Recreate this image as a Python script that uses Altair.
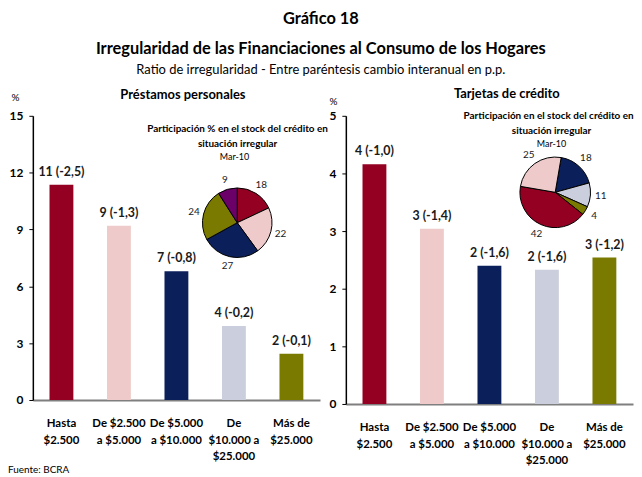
import math
import altair as alt
import pandas as pd

# ---------------- data ----------------
categorias = ["Hasta|$2.500", "De $2.500|a $5.000", "De $5.000|a $10.000",
              "De|$10.000 a|$25.000", "Más de|$25.000"]

prestamos_ratio = [11.36, 9.2, 6.79, 3.91, 2.44]
prestamos_etiquetas = ["11 (-2,5)", "9 (-1,3)", "7 (-0,8)", "4 (-0,2)", "2 (-0,1)"]

tarjetas_ratio = [4.16, 3.04, 2.40, 2.33, 2.54]
tarjetas_etiquetas = ["4 (-1,0)", "3 (-1,4)", "2 (-1,6)", "2 (-1,6)", "3 (-1,2)"]

pie_prest_seg = ["p1", "p2", "p3", "p4", "p5"]
pie_prest_val = [18, 22, 27, 24, 9]

pie_tarj_seg = ["t1", "t2", "t3", "t4", "t5"]
pie_tarj_val = [18, 11, 4, 42, 25]

# ---------------- styles ----------------
FONT = "Lato"
RED, PINK, NAVY, LAV, OLIVE, PURPLE = "#930022", "#EECBCA", "#0B1F5A", "#CBCEDC", "#7A7A00", "#6A0068"
bar_colors = [RED, PINK, NAVY, LAV, OLIVE]
pie_prest_colors = [RED, PINK, NAVY, OLIVE, PURPLE]
pie_tarj_colors = [NAVY, LAV, OLIVE, RED, PINK]

one_row = pd.DataFrame({"k": [0]})


def note(txt, px, py, fs, fw="normal", align="center"):
    return alt.Chart(one_row).mark_text(fontSize=fs, fontWeight=fw, color="black",
                                        baseline="middle", align=align).encode(
        x=alt.value(px), y=alt.value(py), text=alt.value(txt))


def panel(ratios, etiquetas, height, ymax, yvals, pct_xy,
          pie_seg, pie_val, pie_cols, pie_start, pie_c, pie_r, pie_lbl_r,
          pie_titles, panel_title, panel_title_xy, footer=False):
    df = pd.DataFrame({"cat": categorias, "ratio": ratios, "lab": etiquetas})
    x = alt.X("cat:N", sort=categorias,
              scale=alt.Scale(paddingInner=0.585, paddingOuter=0.29),
              axis=alt.Axis(title=None, labelExpr="split(datum.label, '|')",
                            labelAngle=0, ticks=False, domainColor="#7f7f7f",
                            domainWidth=2, labelFontWeight="bold", labelFontSize=11.5,
                            labelColor="black", labelPadding=18, labelLineHeight=16.5))
    y = alt.Y("ratio:Q", scale=alt.Scale(domain=[0, ymax], nice=False),
              axis=alt.Axis(values=yvals, format="d", grid=False, title="%",
                            titleAngle=0, titleX=pct_xy[0], titleY=pct_xy[1],
                            titleAlign="center", titleBaseline="middle",
                            titleFontWeight="normal", titleFontSize=10,
                            domainColor="black", domainWidth=1.5,
                            tickColor="black", tickSize=4,
                            labelFontWeight="bold", labelFontSize=12,
                            labelColor="black", labelPadding=6))
    base = alt.Chart(df)
    bars = base.mark_bar().encode(
        x=x, y=y,
        color=alt.Color("cat:N", scale=alt.Scale(domain=categorias, range=bar_colors), legend=None))
    labels = base.mark_text(dy=-13, fontWeight="bold", fontSize=12.5, color="#1a1a1a").encode(
        x=x, y=y, text="lab:N")

    pdf = pd.DataFrame({"seg": pie_seg, "val": pie_val, "ord": list(range(len(pie_val)))})
    theta = alt.Theta("val:Q", stack=True,
                      scale=alt.Scale(range=[pie_start, pie_start + 2 * math.pi]))
    arc = alt.Chart(pdf).mark_arc(radius=pie_r, stroke="black", strokeWidth=1).encode(
        theta=theta,
        color=alt.Color("seg:N", scale=alt.Scale(domain=pie_seg, range=pie_cols), legend=None),
        order=alt.Order("ord:Q"),
        x=alt.value(pie_c[0]), y=alt.value(pie_c[1]))
    arc_txt = alt.Chart(pdf).mark_text(radius=pie_lbl_r, fontSize=10, color="#1a1a1a").encode(
        theta=theta, text="val:Q", order=alt.Order("ord:Q"),
        x=alt.value(pie_c[0]), y=alt.value(pie_c[1]))

    layers = [bars, labels, arc, arc_txt]
    for txt, px, py, fs, fw in pie_titles:
        layers.append(note(txt, px, py, fs, fw))
    layers.append(note(panel_title, panel_title_xy[0], panel_title_xy[1], 13, "bold"))
    if footer:
        layers.append(note("Fuente: BCRA", -25, 356, 10, "normal", "left"))
    return alt.layer(*layers).resolve_scale(color="independent").properties(
        width=289, height=height)


left = panel(prestamos_ratio, prestamos_etiquetas, 286, 15, [0, 3, 6, 9, 12, 15], (-18, -18.7),
             pie_prest_seg, pie_prest_val, pie_prest_colors, 0.0, (205.7, 107.6), 35, 45,
             [("Participación % en el stock del crédito en", 206, 13.3, 10, "bold"),
              ("situación irregular", 206, 28.3, 10, "bold"),
              ("Mar-10", 203, 41.3, 9, "normal")],
             "Préstamos personales", (151, -21.2), footer=True)

right = panel(tarjetas_ratio, tarjetas_etiquetas, 290, 5, [0, 1, 2, 3, 4, 5], (-13, -14.3),
              pie_tarj_seg, pie_tarj_val, pie_tarj_colors, 0.17, (210.7, 77), 35.5, 46,
              [("Participación en el stock del crédito en", 204, 0, 10, "bold"),
               ("situación irregular", 207, 15.4, 10, "bold"),
               ("Mar-10", 207, 28.7, 9, "normal")],
              "Tarjetas de crédito", (162, -21.8))

chart = alt.hconcat(left, right, spacing=26, bounds="flush").resolve_scale(
    x="independent", y="independent", color="independent", theta="independent"
).properties(
    title=alt.TitleParams(
        text=["Gráfico 18", "Irregularidad de las Financiaciones al Consumo de los Hogares"],
        subtitle="Ratio de irregularidad - Entre paréntesis cambio interanual en p.p.",
        fontSize=16.5, fontWeight="bold", lineHeight=30, color="black",
        subtitleFontSize=13, subtitleColor="black", subtitleFontWeight="normal",
        subtitlePadding=7, anchor="middle", offset=11),
    padding={"left": 0, "right": 0, "top": 1, "bottom": 0},
).configure(font=FONT).configure_view(stroke=None)

chart.save("out.html", embed_options={"renderer": "svg", "actions": False})
